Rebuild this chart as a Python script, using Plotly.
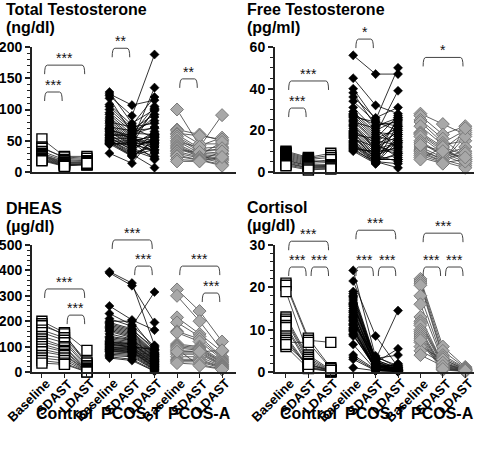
import plotly.graph_objects as go

# ---------------- categories / labels ----------------
categories = ["Baseline", "SDAST", "LDAST"]
groups = ["Control", "PCOS-T", "PCOS-A"]

# ---------------- Total Testosterone (ng/dl) ----------------
tt_control_base = [53, 40, 38, 33, 30, 28, 27, 26, 25, 24, 22, 21, 20, 19, 18]
tt_control_sdast = [25, 22, 24, 20, 18, 16, 15, 14, 13, 12, 12, 11, 10, 10, 9]
tt_control_ldast = [25, 20, 22, 18, 17, 16, 15, 14, 13, 12, 12, 11, 13, 12, 14]
tt_pcost_base = [128, 125, 122, 118, 108, 105, 100, 95, 92, 88, 85, 82, 80, 78, 75, 72, 70, 68, 67, 65,
                 64, 62, 60, 59, 58, 56, 55, 54, 52, 51, 50, 49, 48, 47, 46, 45, 45, 44, 30, 70]
tt_pcost_sdast = [78, 107, 90, 62, 75, 70, 68, 65, 60, 57, 55, 52, 72, 50, 48, 66, 47, 45, 58, 44,
                  42, 56, 40, 38, 60, 36, 35, 54, 30, 33, 28, 50, 27, 26, 46, 25, 44, 48, 14, 52]
tt_pcost_ldast = [100, 115, 188, 60, 120, 55, 92, 82, 105, 50, 98, 45, 78, 135, 40, 70, 60, 48, 88, 35,
                  65, 30, 52, 25, 72, 55, 22, 47, 40, 62, 7, 57, 36, 45, 32, 50, 102, 20, 58, 42]
tt_pcosa_base = [100, 68, 66, 62, 60, 57, 54, 50, 48, 45, 42, 40, 38, 35, 33, 30, 27, 25, 20, 17]
tt_pcosa_sdast = [42, 60, 45, 58, 38, 35, 33, 30, 40, 28, 27, 26, 25, 32, 24, 22, 20, 19, 18, 17]
tt_pcosa_ldast = [55, 50, 45, 52, 40, 35, 30, 28, 91, 25, 48, 22, 20, 38, 18, 15, 12, 10, 33, 24]

# ---------------- Free Testosterone (pg/ml) ----------------
ft_control_base = [10, 9.5, 9, 8.5, 8, 7.5, 7, 6.5, 6, 5.5, 5, 4.5, 4, 3.5, 3]
ft_control_sdast = [7, 6.5, 6, 5.5, 5, 4.5, 4, 3.5, 3, 3, 2.5, 2, 2, 1.5, 1]
ft_control_ldast = [9, 8, 7, 5, 4.5, 6, 3.5, 3, 3, 2.5, 2.5, 2, 2, 1.5, 1.5]
ft_pcost_base = [56, 45, 40, 38, 36, 34, 31, 29, 28, 27.5, 27, 26, 25, 24.5, 24, 23, 22, 21, 20, 19.5,
                 19, 18.5, 18, 17, 16.5, 16, 15, 14.5, 14, 13.5, 13, 12.5, 12, 11.5, 11, 10.5, 10, 22.5, 17.5, 26.5]
ft_pcost_sdast = [47, 32, 25, 22, 26, 24, 20, 19, 18, 22.5, 17, 16, 15, 14, 21, 13, 12, 11, 10, 14,
                  9, 8, 16, 8, 7, 12, 7, 6, 5, 6, 5, 4.5, 9, 4, 10, 5, 4, 11, 6, 24]
ft_pcost_ldast = [47, 28, 50, 26, 31, 20, 25, 18, 39, 24, 15, 27, 13, 22, 11, 19, 17, 9, 25, 7,
                  14, 12, 21, 5, 16, 10, 26, 8, 4, 6, 2, 23, 12, 15, 20, 9, 18, 14, 6, 22]
ft_pcosa_base = [28, 27, 25, 24, 22, 19, 18.5, 18, 17, 15, 14, 12, 11, 10.5, 10, 9, 8, 7, 6, 13]
ft_pcosa_sdast = [23, 18, 16, 14, 13, 12, 11, 10, 9, 8, 8, 7, 6, 6, 5, 5, 4.5, 4, 12, 10]
ft_pcosa_ldast = [18, 22, 7, 20, 15, 8, 19, 6, 5, 12, 4, 10, 9, 3, 17, 2, 6, 21, 5, 7]

# ---------------- DHEAS (µg/dl) ----------------
dh_control_base = [200, 190, 182, 165, 155, 140, 130, 120, 110, 100, 90, 80, 65, 55, 45, 35]
dh_control_sdast = [155, 145, 150, 135, 125, 115, 100, 95, 85, 80, 70, 65, 55, 45, 35, 30]
dh_control_ldast = [85, 40, 30, 35, 25, 20, 15, 10, 8, 6, 5, 4, 3, 2, 1, 0]
dh_pcost_base = [395, 390, 260, 230, 210, 200, 195, 190, 185, 180, 175, 170, 165, 160, 150, 140, 135, 130, 125, 120,
                 118, 115, 112, 110, 105, 100, 98, 95, 92, 90, 88, 85, 82, 80, 75, 70, 65, 60, 55, 108]
dh_pcost_sdast = [350, 340, 205, 185, 180, 200, 170, 165, 160, 155, 150, 145, 140, 135, 130, 128, 125, 120, 115, 112,
                  110, 108, 105, 100, 98, 95, 92, 90, 88, 85, 82, 80, 78, 75, 70, 65, 60, 50, 45, 100]
dh_pcost_ldast = [105, 195, 165, 100, 315, 90, 85, 95, 78, 75, 72, 70, 68, 65, 62, 60, 58, 55, 52, 50,
                  48, 45, 42, 40, 38, 35, 32, 30, 28, 25, 22, 20, 18, 15, 12, 10, 8, 5, 3, 88]
dh_pcosa_base = [325, 300, 215, 195, 160, 155, 110, 105, 100, 95, 85, 75, 70, 60, 50, 45, 40, 35, 90, 80]
dh_pcosa_sdast = [240, 200, 150, 140, 130, 120, 100, 95, 90, 85, 80, 75, 70, 60, 50, 45, 40, 30, 25, 80]
dh_pcosa_ldast = [120, 85, 80, 60, 55, 50, 45, 40, 38, 35, 30, 28, 25, 22, 20, 18, 15, 12, 10, 85]

# ---------------- Cortisol (µg/dl) ----------------
co_control_base = [21, 20.5, 19, 13, 12.5, 12, 11, 10.5, 8.5, 8, 7.5, 7, 6, 6.5]
co_control_sdast = [8, 7.5, 4, 3.5, 3, 2.5, 2, 1.5, 1.2, 1, 1, 7, 0.8, 1.8]
co_control_ldast = [1, 7, 0.5, 0.3, 0.2, 0.1, 0, 0.5, 0.3, 0.2, 0.1, 0.8, 0.1, 0.4]
co_pcost_base = [24, 21.5, 19, 18.5, 18, 17.5, 17, 16.5, 16, 15.5, 15, 14.5, 14, 13.5, 13, 12.5, 12, 11.5, 11, 10.5,
                 10, 9.5, 9, 8.5, 6.5, 4, 3.5, 3, 1, 15.8, 14.2, 12.8, 11.2, 9.8, 17.8, 16.2, 13.2, 10.2, 8.8, 12.2]
co_pcost_sdast = [3.5, 8.5, 3, 2.8, 2.5, 2.2, 2, 1.8, 3.2, 1.5, 1.2, 1, 2.6, 0.8, 1.4, 0.6, 0.5, 3.8, 0.4, 0.3,
                  1.1, 0.9, 0.7, 1.6, 0.5, 0.6, 0.4, 0.3, 0.3, 2.4, 1.7, 1.3, 0.9, 0.7, 2.9, 2.1, 1.5, 1.0, 0.8, 1.9]
co_pcost_ldast = [1.5, 1.2, 14.5, 1, 0.8, 5.5, 0.6, 0.5, 4, 0.4, 0.3, 1.8, 0.2, 0.5, 1.5, 0.3, 0.2, 1, 0.1, 0.3,
                  0.4, 2, 0.2, 0.5, 0.3, 0.2, 0.1, 1.2, 0.1, 0.6, 0.5, 0.4, 0.3, 0.2, 0.8, 0.7, 0.6, 1.1, 0.3, 0.4]
co_pcosa_base = [22, 21.5, 21, 20.5, 18, 16, 13, 12, 11.5, 11, 10, 9.5, 9, 8.5, 8, 7, 6, 5, 4, 7.5]
co_pcosa_sdast = [6, 5, 4, 3.5, 3, 2.5, 2, 2, 1.8, 1.5, 1.2, 1, 1, 0.8, 0.6, 0.5, 3, 2.2, 1.4, 0.7]
co_pcosa_ldast = [1.2, 1, 0.9, 0.8, 0.7, 0.6, 0.5, 0.5, 0.4, 0.4, 0.3, 0.3, 0.2, 0.2, 0.2, 0.1, 0.6, 0.5, 0.4, 0.3]

# ---------------- significance brackets: (group, from, to, y, label) ----------------
tt_brackets = [(0, 0, 1, 128, "***"), (0, 0, 2, 171, "***"), (1, 0, 1, 198, "**"), (2, 0, 1, 149, "**")]
ft_brackets = [(0, 0, 1, 30.7, "***"), (0, 0, 2, 43.7, "***"), (1, 0, 1, 63.8, "*"), (2, 0, 2, 55, "*")]
dh_brackets = [(0, 0, 2, 327, "***"), (0, 1, 2, 224, "***"), (1, 0, 2, 520, "***"), (1, 1, 2, 417, "***"),
               (2, 0, 2, 417, "***"), (2, 1, 2, 311, "***")]
co_brackets = [(0, 0, 2, 30.9, "***"), (0, 0, 1, 24.8, "***"), (0, 1, 2, 24.8, "***"),
               (1, 0, 2, 33.5, "***"), (1, 0, 1, 24.8, "***"), (1, 1, 2, 24.8, "***"),
               (2, 0, 2, 32.8, "***"), (2, 0, 1, 24.8, "***"), (2, 1, 2, 24.8, "***")]

FONT = "Liberation Sans, Arial, sans-serif"

panels = [
    dict(title="Total Testosterone", unit="(ng/dl)", ymax=200, dtick=50, minor=10,
         data=[(tt_control_base, tt_control_sdast, tt_control_ldast),
               (tt_pcost_base, tt_pcost_sdast, tt_pcost_ldast),
               (tt_pcosa_base, tt_pcosa_sdast, tt_pcosa_ldast)],
         brackets=tt_brackets, xdom=[0.0671, 0.4948], ydom=[0.6169, 0.8953], xr=[-0.44, 8.62],
         tx=4, ty=[9.5, 27.5], bottom=False),
    dict(title="Free Testosterone", unit="(pg/ml)", ymax=60, dtick=20, minor=5,
         data=[(ft_control_base, ft_control_sdast, ft_control_ldast),
               (ft_pcost_base, ft_pcost_sdast, ft_pcost_ldast),
               (ft_pcosa_base, ft_pcosa_sdast, ft_pcosa_ldast)],
         brackets=ft_brackets, xdom=[0.5765, 0.9937], ydom=[0.6169, 0.8953], xr=[-0.49, 8.39],
         tx=245, ty=[9.5, 27.5], bottom=False),
    dict(title="DHEAS", unit="(µg/dl)", ymax=500, dtick=100, minor=20,
         data=[(dh_control_base, dh_control_sdast, dh_control_ldast),
               (dh_pcost_base, dh_pcost_sdast, dh_pcost_ldast),
               (dh_pcosa_base, dh_pcosa_sdast, dh_pcosa_ldast)],
         brackets=dh_brackets, xdom=[0.0671, 0.4948], ydom=[0.1715, 0.4543], xr=[-0.44, 8.62],
         tx=4, ty=[208, 226.5], bottom=True),
    dict(title="Cortisol", unit="(µg/dl)", ymax=30, dtick=10, minor=2,
         data=[(co_control_base, co_control_sdast, co_control_ldast),
               (co_pcost_base, co_pcost_sdast, co_pcost_ldast),
               (co_pcosa_base, co_pcosa_sdast, co_pcosa_ldast)],
         brackets=co_brackets, xdom=[0.5765, 0.9937], ydom=[0.1715, 0.4543], xr=[-0.49, 8.39],
         tx=245, ty=[207, 225.5], bottom=True),
]

group_styles = [
    dict(symbol="square", size=10, fill="white", edge="black", edgew=1.4, line="#222222"),
    dict(symbol="diamond", size=7, fill="black", edge="black", edgew=0.5, line="#000000"),
    dict(symbol="diamond", size=10, fill="#a8a8a8", edge="#7a7a7a", edgew=1, line="#3a3a3a"),
]

W, H = 477, 449
fig = go.Figure()
shapes, annotations, layout_axes = [], [], {}

for pi, p in enumerate(panels):
    sfx = "" if pi == 0 else str(pi + 1)
    xref, yref = "x" + sfx, "y" + sfx
    for gi, (b, s, l) in enumerate(p["data"]):
        st = group_styles[gi]
        xs, ys, mx, my = [], [], [], []
        for vb, vs, vl in zip(b, s, l):
            xs += [gi * 3, gi * 3 + 1, gi * 3 + 2, None]
            ys += [vb, vs, vl, None]
            mx += [gi * 3, gi * 3 + 1, gi * 3 + 2]
            my += [vb, vs, vl]
        fig.add_trace(go.Scatter(x=xs, y=ys, mode="lines", xaxis=xref, yaxis=yref,
                                 line=dict(color=st["line"], width=0.8), hoverinfo="skip",
                                 showlegend=False, connectgaps=False))
        fig.add_trace(go.Scatter(x=mx, y=my, mode="markers", xaxis=xref, yaxis=yref,
                                 marker=dict(symbol=st["symbol"], size=st["size"], color=st["fill"],
                                             line=dict(color=st["edge"], width=st["edgew"])),
                                 cliponaxis=False, showlegend=False, name=groups[gi]))
    # axes
    layout_axes["xaxis" + sfx] = dict(
        domain=p["xdom"], range=p["xr"], anchor=yref, showgrid=False, zeroline=False,
        automargin=False,
        showline=True, linecolor="#222222", linewidth=2,
        tickvals=list(range(9)) if p["bottom"] else [],
        ticks="outside" if p["bottom"] else "", ticklen=4, tickcolor="#222222",
        showticklabels=False)
    layout_axes["yaxis" + sfx] = dict(
        domain=p["ydom"], range=[0, p["ymax"]], anchor=xref, showgrid=False, zeroline=False,
        automargin=False,
        showline=True, linecolor="#222222", linewidth=2, dtick=p["dtick"], tick0=0,
        ticks="outside", ticklen=5, tickwidth=1.5, tickcolor="#222222",
        minor=dict(dtick=p["minor"], ticks="outside", ticklen=3, tickcolor="#222222", tickwidth=1),
        tickfont=dict(family=FONT, size=14, color="black", weight="bold"))
    # brackets (y in domain fraction so they may rise above the axis top)
    hook = 9.0 / ((p["ydom"][1] - p["ydom"][0]) * H)
    for gi, a, bb, yv, lab in p["brackets"]:
        x1 = gi * 3 + a + 0.12
        x2 = gi * 3 + bb - 0.1
        yf = yv / p["ymax"]
        dx = 0.12
        path = (f"M {x1},{yf - hook} Q {x1},{yf} {x1 + dx},{yf} "
                f"L {x2 - dx},{yf} Q {x2},{yf} {x2},{yf - hook}")
        shapes.append(dict(type="path", path=path, xref=xref, yref=yref + " domain",
                           line=dict(color="#444444", width=1)))
        annotations.append(dict(x=(x1 + x2) / 2, y=yf, xref=xref, yref=yref + " domain", text=lab,
                                showarrow=False, yanchor="middle", yshift=7,
                                font=dict(family=FONT, size=14, color="#111111")))
    # titles
    annotations.append(dict(x=p["tx"] / W, y=1 - p["ty"][0] / H, xref="paper", yref="paper",
                            text=p["title"], showarrow=False, xanchor="left", yanchor="middle",
                            font=dict(family=FONT, size=16, color="black", weight="bold")))
    annotations.append(dict(x=p["tx"] / W, y=1 - p["ty"][1] / H, xref="paper", yref="paper",
                            text=p["unit"], showarrow=False, xanchor="left", yanchor="middle",
                            font=dict(family=FONT, size=16, color="black", weight="bold")))
    if p["bottom"]:
        # rotated category labels (top-right corner of each rotated label sits just right of its tick)
        for ci in range(9):
            annotations.append(dict(x=ci, y=0, xref=xref, yref=yref + " domain",
                                    text=categories[ci % 3], showarrow=False, textangle=-45,
                                    xanchor="right", yanchor="top", xshift=12, yshift=-3,
                                    borderpad=0,
                                    font=dict(family=FONT, size=13, color="black", weight="bold")))
        for gi, g in enumerate(groups):
            annotations.append(dict(x=gi * 3 + 1, y=1 - 413 / H, xref=xref, yref="paper", text=g,
                                    showarrow=False, xanchor="center", yanchor="middle",
                                    font=dict(family=FONT, size=16, color="black", weight="bold")))

fig.update_layout(width=W, height=H, margin=dict(l=0, r=0, t=0, b=0),
                  paper_bgcolor="white", plot_bgcolor="white",
                  shapes=shapes, annotations=annotations, showlegend=False, **layout_axes)

fig.write_html("out.html", config={"displayModeBar": False},
               post_script="document.body.style.margin='0';")
